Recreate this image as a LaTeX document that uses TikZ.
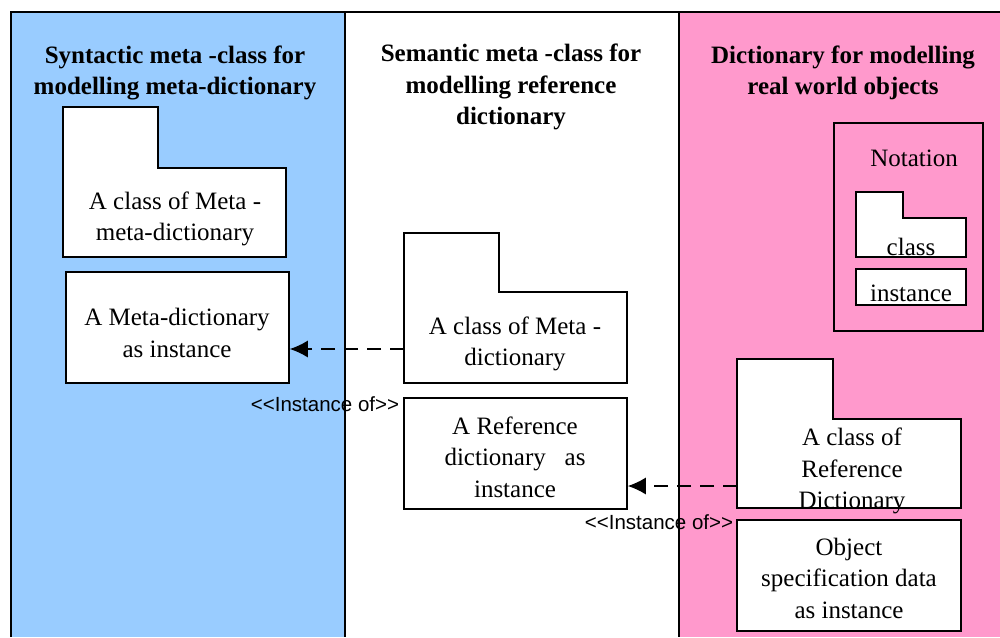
\documentclass[tikz,border=0pt]{standalone}
\usepackage{fontspec}
\setmainfont{Liberation Serif}
\newfontfamily\lblfont{Liberation Sans}
\usetikzlibrary{arrows.meta}
\definecolor{colblue}{HTML}{99CCFF}
\definecolor{colpink}{HTML}{FF99CC}
\newcommand\umlclassshape[6]{%
  \draw[shapeline] (#1,#2) -- (#3,#2) -- (#3,#4) -- (#5,#4) -- (#5,#6) -- (#1,#6) -- cycle;}
\begin{document}
\begin{tikzpicture}[x=1pt,y=-1pt,
  shapeline/.style={line width=1.5pt, fill=white, draw=black},
  titletext/.style={font=\fontsize{25}{31.5}\selectfont\bfseries, align=center, inner sep=0pt},
  bodytext/.style={font=\fontsize{25}{31.5}\selectfont, align=center, inner sep=0pt},
  instbox/.style={draw=black, fill=white, line width=1.5pt, inner sep=0pt},
  lbltext/.style={font=\lblfont\fontsize{20.5}{24}\selectfont, inner sep=0pt},
  instarrow/.style={line width=1.5pt, dash pattern=on 14pt off 9pt, -{Latex[length=18pt,width=17pt]}}]
\useasboundingbox (0,0) rectangle (1000,637);
% columns
\fill[colblue] (11,12) rectangle (345,637);
\fill[white] (345,12) rectangle (679,637);
\fill[colpink] (679,12) rectangle (1000,637);
\draw[line width=2pt] (11,637) -- (11,12) -- (1000,12);
\draw[line width=2pt] (345,12) -- (345,637);
\draw[line width=2pt] (679,12) -- (679,637);
% titles
\node[titletext] (t1) at (175,73) {Syntactic meta -class for\\modelling meta-dictionary};
\node[titletext] (t2) at (511,87) {Semantic meta -class for\\modelling reference\\dictionary};
\node[titletext] (t3) at (843,73) {Dictionary for modelling\\real world objects};
% left column
\umlclassshape{63}{107}{158}{168}{286}{257}
\node[bodytext] (c1) at (175,219) {A class of Meta -\\meta-dictionary};
\node[instbox, minimum width=223pt, minimum height=111pt] (i1) at (177.5,327.5) {};
\node[bodytext] (i1t) at (177,333) {A Meta-dictionary\\as instance};
% middle column
\umlclassshape{404}{233}{499}{292}{627}{383}
\node[bodytext] (c2) at (515,344) {A class of Meta -\\dictionary};
\node[instbox, minimum width=223pt, minimum height=111pt] (i2) at (515.5,453.5) {};
\node[bodytext] (i2t) at (515,457) {A Reference\\dictionary\ \ \ as\\instance};
% right column
\umlclassshape{737}{359}{833}{419}{961}{508}
\node[bodytext] (c3) at (852,471) {A class of\\Reference\\Dictionary};
\node[instbox, minimum width=224pt, minimum height=111pt] (i3) at (849,575.5) {};
\node[bodytext] (i3t) at (849,578) {Object\\specification data\\as instance};
% notation
\node[draw=black, line width=1.5pt, minimum width=149pt, minimum height=208pt, inner sep=0pt] (nota) at (908.5,227) {};
\node[bodytext] (notat) at (914,158) {Notation};
\umlclassshape{856}{192}{903}{218}{966}{257}
\node[bodytext] (nclass) at (911,247) {class};
\node[instbox, minimum width=110pt, minimum height=36pt] (ninst) at (911,287) {};
\node[bodytext] at (911,293) (ninstt) {instance};
% arrows
\coordinate (c2w) at (404,349);
\coordinate (c3w) at (737,486);
\draw[instarrow] (c2w) -- (c2w -| i1.east);
\draw[instarrow] (c3w) -- (c3w -| i2.east);
\node[lbltext] (l1) at (325,404) {<\kern0pt<Instance of>\kern0pt>};
\node[lbltext] (l2) at (659,522) {<\kern0pt<Instance of>\kern0pt>};
\end{tikzpicture}
\end{document}
